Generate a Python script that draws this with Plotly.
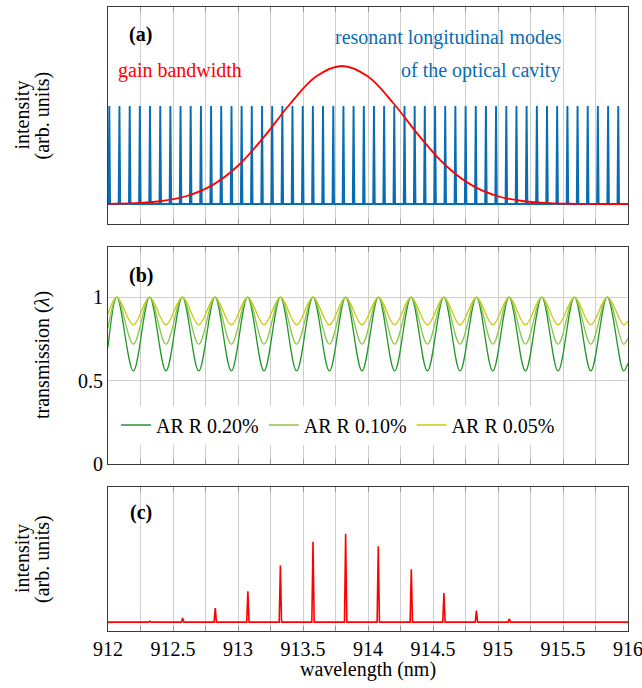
import plotly.graph_objects as go

# ---------------- data ----------------
# (a) resonant longitudinal modes of the cavity (nm) and their relative height
mode_wl = [912.010, 912.088, 912.167, 912.245, 912.323, 912.402, 912.480, 912.558,
           912.636, 912.715, 912.793, 912.871, 912.950, 913.028, 913.106, 913.185,
           913.263, 913.341, 913.419, 913.498, 913.576, 913.654, 913.733, 913.811,
           913.889, 913.968, 914.046, 914.124, 914.202, 914.281, 914.359, 914.437,
           914.516, 914.594, 914.672, 914.751, 914.829, 914.907, 914.985, 915.064,
           915.142, 915.220, 915.299, 915.377, 915.455, 915.534, 915.612, 915.690,
           915.768, 915.847, 915.925]
mode_height = 1.0

# (a) gain bandwidth curve, sampled every 0.2 nm
gain_wl = [912.0, 912.2, 912.4, 912.6, 912.8, 913.0, 913.2, 913.4, 913.6, 913.8,
           914.0, 914.2, 914.4, 914.6, 914.8, 915.0, 915.2, 915.4, 915.6, 915.8, 916.0]
gain_val = [0.002, 0.008, 0.028, 0.079, 0.19, 0.39, 0.685, 1.02, 1.30, 1.408,
            1.30, 1.02, 0.685, 0.39, 0.19, 0.079, 0.028, 0.008, 0.002, 0.0, 0.0]

# (b) transmission: peak and trough wavelengths
trans_peak_wl = [912.069, 912.320, 912.572, 912.823, 913.074, 913.326, 913.577, 913.828,
                 914.080, 914.331, 914.583, 914.834, 915.085, 915.337, 915.588, 915.840]
trans_trough_wl = [912.195, 912.446, 912.698, 912.949, 913.200, 913.451, 913.703, 913.954,
                   914.205, 914.457, 914.708, 914.960, 915.211, 915.462, 915.714, 915.966]
trans_names = ["AR R 0.20%", "AR R 0.10%", "AR R 0.05%"]
trans_max = [1.0, 1.0, 1.0]
trans_min = [0.558, 0.718, 0.834]
trans_start = [0.70, 0.815, 0.90]   # value at 912 nm
trans_end = [0.604, 0.753, 0.858]   # value at 916 nm

# (c) lasing spectrum: peak wavelengths and relative heights
laser_wl = [912.322, 912.574, 912.825, 913.076, 913.326, 913.577, 913.828, 914.079,
            914.333, 914.584, 914.834, 915.087, 915.338]
laser_height = [0.011, 0.049, 0.16, 0.35, 0.64, 0.91, 1.0, 0.86, 0.60, 0.33, 0.13, 0.038, 0.008]

x_ticks = [912, 912.5, 913, 913.5, 914, 914.5, 915, 915.5, 916]
x_ticklabels = ["912", "912.5", "913", "913.5", "914", "914.5", "915", "915.5", "916"]

# ---------------- styles ----------------
FONT = "Liberation Serif"
FS = 20
BLUE = "#0a6cb4"
RED = "#ff0000"
GREENS = ["#23962a", "#8cc54a", "#c9c710"]
GRID = "#cfcfcf"
AXC = "#3a3a3a"


def spikes(centers, heights, half_w, x0=912.0, x1=916.0):
    xs, ys = [x0], [0.0]
    for c, h in zip(centers, heights):
        xs += [c - half_w, c, c + half_w]
        ys += [0.0, h, 0.0]
    xs.append(x1)
    ys.append(0.0)
    return xs, ys


fig = go.Figure()

# (a)
ax, ay = spikes(mode_wl, [mode_height] * len(mode_wl), 0.006)
fig.add_trace(go.Scatter(x=ax, y=ay, mode="lines", line=dict(color=BLUE, width=1.9),
                         xaxis="x", yaxis="y", showlegend=False))
fig.add_trace(go.Scatter(x=gain_wl, y=gain_val, mode="lines",
                         line=dict(color=RED, width=1.8, shape="spline", smoothing=1.0),
                         xaxis="x", yaxis="y", showlegend=False))

# (b)
for i, name in enumerate(trans_names):
    xs = [912.0]
    ys = [trans_start[i]]
    for p, t in zip(trans_peak_wl, trans_trough_wl):
        xs += [p, t]
        ys += [trans_max[i], trans_min[i]]
    xs.append(916.0)
    ys.append(trans_end[i])
    fig.add_trace(go.Scatter(x=xs, y=ys, mode="lines", name=name,
                             line=dict(color=GREENS[i], width=1.3, shape="spline", smoothing=1.0),
                             xaxis="x2", yaxis="y2"))

# (c)
cx, cy = spikes(laser_wl, laser_height, 0.009)
fig.add_trace(go.Scatter(x=cx, y=cy, mode="lines", line=dict(color=RED, width=1.6),
                         xaxis="x3", yaxis="y3", showlegend=False))

H = 688
T, B = 7, 57
PH = H - T - B


def py(ypx):
    return (H - B - ypx) / PH


def px(xpx):
    return (xpx - 108) / 520


xcommon = dict(range=[912, 916], tickvals=x_ticks, ticktext=x_ticklabels,
               showgrid=True, gridcolor=GRID, gridwidth=1,
               minor=dict(tick0=912, dtick=0.25, showgrid=True, gridcolor=GRID, gridwidth=1,
                          ticks="inside", ticklen=5, tickcolor="#9a9a9a"),
               ticks="inside", ticklen=5, tickcolor="#9a9a9a",
               showline=True, linecolor=AXC, linewidth=1.2, mirror="ticks",
               zeroline=False, ticklabeloverflow="allow", automargin=False,
               tickfont=dict(family=FONT, size=FS, color="black"))

ycommon = dict(showline=True, linecolor=AXC, linewidth=1.2, mirror=True, zeroline=False,
               automargin=False, tickfont=dict(family=FONT, size=FS, color="black"))

fig.update_layout(
    width=642, height=688,
    margin=dict(l=108, r=14, t=T, b=B, autoexpand=False),
    paper_bgcolor="white", plot_bgcolor="white",
    font=dict(family=FONT, size=FS, color="black"),
    xaxis=dict(**xcommon, anchor="y", showticklabels=False),
    xaxis2=dict(**xcommon, anchor="y2", showticklabels=False, matches="x"),
    xaxis3=dict(**xcommon, anchor="y3", showticklabels=True, matches="x"),
    yaxis=dict(**ycommon, domain=[py(224), 1.0], range=[-0.204, 2.01],
               showticklabels=False, showgrid=False, ticks=""),
    yaxis2=dict(**ycommon, domain=[py(464), py(247)], range=[0, 1.3],
                tickvals=[0, 0.5, 1], ticktext=["0", "0.5", "1"],
                showgrid=True, gridcolor=GRID, gridwidth=1, ticks=""),
    yaxis3=dict(**ycommon, domain=[0.0, py(487)], range=[-0.1, 1.53],
                showticklabels=False, showgrid=False, ticks=""),
    legend=dict(orientation="h", x=px(116), y=py(425), xanchor="left", yanchor="middle",
                bgcolor="white", borderwidth=0, font=dict(family=FONT, size=FS, color="black"),
                itemwidth=30, tracegroupgap=0),
)

ann = [
    dict(text="<b>(a)</b>", x=px(127), y=py(35), xanchor="left"),
    dict(text="<b>(b)</b>", x=px(127), y=py(275), xanchor="left"),
    dict(text="<b>(c)</b>", x=px(128), y=py(512), xanchor="left"),
    dict(text="resonant longitudinal modes", x=px(448.5), y=py(37), font_color=BLUE),
    dict(text="of the optical cavity", x=px(480), y=py(71), font_color=BLUE),
    dict(text="gain bandwidth", x=px(180), y=py(71), font_color=RED),
    dict(text="intensity", x=px(22), y=py(115.5), textangle=-90),
    dict(text="(arb. units)", x=px(42), y=py(115.5), textangle=-90),
    dict(text="transmission (<i>λ</i>)", x=px(42), y=py(355), textangle=-90),
    dict(text="intensity", x=px(22), y=py(559), textangle=-90),
    dict(text="(arb. units)", x=px(42), y=py(559), textangle=-90),
    dict(text="wavelength (nm)", x=px(368), y=py(669)),
]
for a in ann:
    a.setdefault("xanchor", "center")
    a.update(xref="paper", yref="paper", yanchor="middle", showarrow=False)
    col = a.pop("font_color", "black")
    a["font"] = dict(family=FONT, size=FS, color=col)
    fig.add_annotation(**a)

fig.write_html("out.html")
